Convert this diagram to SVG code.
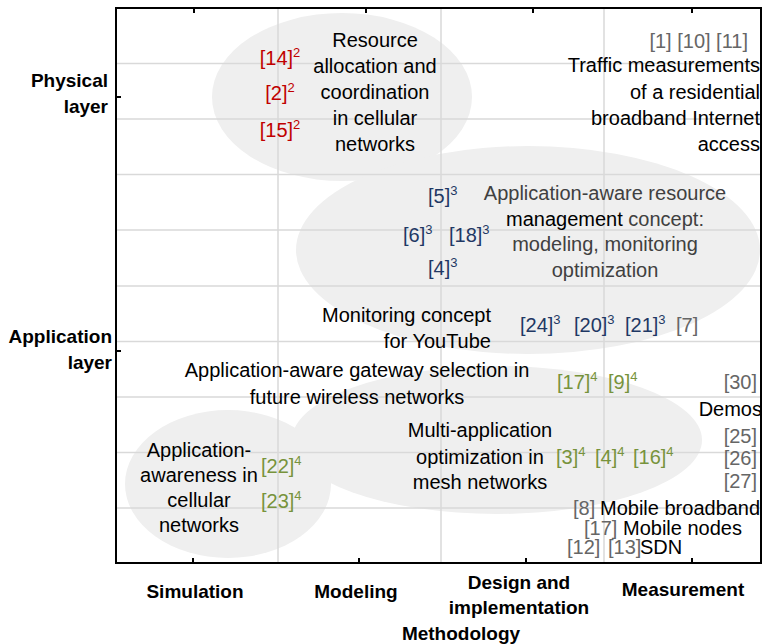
<svg xmlns="http://www.w3.org/2000/svg" width="765" height="644" viewBox="0 0 765 644">
<style>
text{font-family:"Liberation Sans",Arial,sans-serif;font-size:20px;fill:#000}
.b{font-weight:bold;font-size:19px}
.c{text-anchor:middle}
.r{text-anchor:end}
.sup{font-size:13px}
.red{fill:#c00000}
.blue{fill:#1f3864}
.green{fill:#77933c}
.gray{fill:#666666}
.dg{fill:#404040}
.blob{fill:#efefef}
.grid{stroke:#d9d9d9;stroke-width:1.5;fill:none}
.axis{stroke:#000;stroke-width:2;fill:none}
</style>
<rect width="765" height="644" fill="#fff"/>
<g id="clusters">
<ellipse id="cluster-physical" class="blob" cx="342" cy="97" rx="130" ry="84"/>
<ellipse id="cluster-resource-mgmt" class="blob" cx="528" cy="250" rx="232" ry="104"/>
<ellipse id="cluster-multi-app" class="blob" cx="497" cy="440" rx="205" ry="74"/>
<ellipse id="cluster-cellular" class="blob" cx="228" cy="484" rx="103" ry="74"/>
</g>
<g id="grid">
<path class="grid" d="M116 63.5H761M116 119H761M116 174.5H761M116 230H761M116 286H761M116 341.5H761M116 397H761M116 452.5H761M116 508H761M278 8V563M441 8V563M604 8V563"/>
</g>
<g id="axes">
<path class="axis" d="M116 8H761V563H116Z"/>
<path class="axis" d="M194 8V13M366 8V13M533 8V13M692 8V13M193 563V558M359 563V558M526 563V558M692 563V558M116 97H121M116 351H121"/>
</g>
<g id="y-labels">
<text class="b r" x="108" y="87">Physical</text>
<text class="b r" x="108" y="113">layer</text>
<text class="b r" x="112" y="343">Application</text>
<text class="b r" x="112" y="369">layer</text>
</g>
<g id="x-labels">
<text class="b c" x="195" y="598">Simulation</text>
<text class="b c" x="356" y="598">Modeling</text>
<text class="b c" x="519" y="589">Design and</text>
<text class="b c" x="519" y="614">implementation</text>
<text class="b c" x="683" y="596">Measurement</text>
<text class="b c" x="461" y="640">Methodology</text>
</g>
<g id="node-resource-allocation">
<text class="c" x="375" y="47">Resource</text>
<text class="c" x="375" y="73">allocation and</text>
<text class="c" x="375" y="99">coordination</text>
<text class="c" x="375" y="125">in cellular</text>
<text class="c" x="375" y="151">networks</text>
<text class="c red" x="280" y="65">[14]<tspan class="sup" dy="-8">2</tspan></text>
<text class="c red" x="280" y="100">[2]<tspan class="sup" dy="-8">2</tspan></text>
<text class="c red" x="280" y="137">[15]<tspan class="sup" dy="-8">2</tspan></text>
</g>
<g id="node-traffic">
<text class="r gray" x="748" y="48">[1] [10] [11]</text>
<text class="r" x="760" y="72">Traffic measurements</text>
<text class="r" x="760" y="99">of a residential</text>
<text class="r" x="760" y="125">broadband Internet</text>
<text class="r" x="760" y="151">access</text>
</g>
<g id="node-app-aware-resource">
<text class="c dg" x="605" y="200">Application-aware resource</text>
<text class="c dg" x="605" y="226"><tspan fill="#000">management</tspan> concept:</text>
<text class="c dg" x="605" y="251">modeling, monitoring</text>
<text class="c dg" x="605" y="277">optimization</text>
<text class="blue" x="428" y="203">[5]<tspan class="sup" dy="-8">3</tspan></text>
<text class="blue" x="403" y="242">[6]<tspan class="sup" dy="-8">3</tspan></text>
<text class="blue" x="449" y="242">[18]<tspan class="sup" dy="-8">3</tspan></text>
<text class="blue" x="428" y="275">[4]<tspan class="sup" dy="-8">3</tspan></text>
</g>
<g id="node-monitoring-youtube">
<text class="r" x="491" y="322">Monitoring concept</text>
<text class="r" x="491" y="348">for YouTube</text>
<text class="blue" x="520" y="332">[24]<tspan class="sup" dy="-8">3</tspan></text>
<text class="blue" x="574" y="332">[20]<tspan class="sup" dy="-8">3</tspan></text>
<text class="blue" x="625" y="332">[21]<tspan class="sup" dy="-8">3</tspan></text>
<text class="gray" x="676" y="332">[7]</text>
</g>
<g id="node-gateway-selection">
<text class="c" x="357" y="377">Application-aware gateway selection in</text>
<text class="c" x="357" y="404">future wireless networks</text>
<text class="green" x="557" y="389">[17]<tspan class="sup" dy="-8">4</tspan></text>
<text class="green" x="608" y="389">[9]<tspan class="sup" dy="-8">4</tspan></text>
</g>
<g id="node-multi-app">
<text class="c" x="480" y="437">Multi-application</text>
<text class="c" x="480" y="464">optimization in</text>
<text class="c" x="480" y="489">mesh networks</text>
<text class="green" x="556" y="464">[3]<tspan class="sup" dy="-8">4</tspan></text>
<text class="green" x="595" y="464">[4]<tspan class="sup" dy="-8">4</tspan></text>
<text class="green" x="633" y="464">[16]<tspan class="sup" dy="-8">4</tspan></text>
</g>
<g id="node-cellular-awareness">
<text class="c" x="199" y="457">Application-</text>
<text class="c" x="199" y="482">awareness in</text>
<text class="c" x="199" y="507">cellular</text>
<text class="c" x="199" y="532">networks</text>
<text class="green" x="261" y="473">[22]<tspan class="sup" dy="-8">4</tspan></text>
<text class="green" x="261" y="508">[23]<tspan class="sup" dy="-8">4</tspan></text>
</g>
<g id="node-demos">
<text class="r gray" x="757" y="389">[30]</text>
<text class="r" x="762" y="416">Demos</text>
<text class="r gray" x="757" y="443">[25]</text>
<text class="r gray" x="757" y="465">[26]</text>
<text class="r gray" x="757" y="488">[27]</text>
</g>
<g id="node-measurements">
<text class="gray" x="573" y="515">[8]</text>
<text x="600" y="515">Mobile broadband</text>
<text class="gray" x="584" y="535">[17]</text>
<text x="623" y="535">Mobile nodes</text>
<text class="gray" x="567" y="554">[12]</text>
<text class="gray" x="608" y="554">[13]</text>
<text x="640" y="554">SDN</text>
</g>
</svg>
